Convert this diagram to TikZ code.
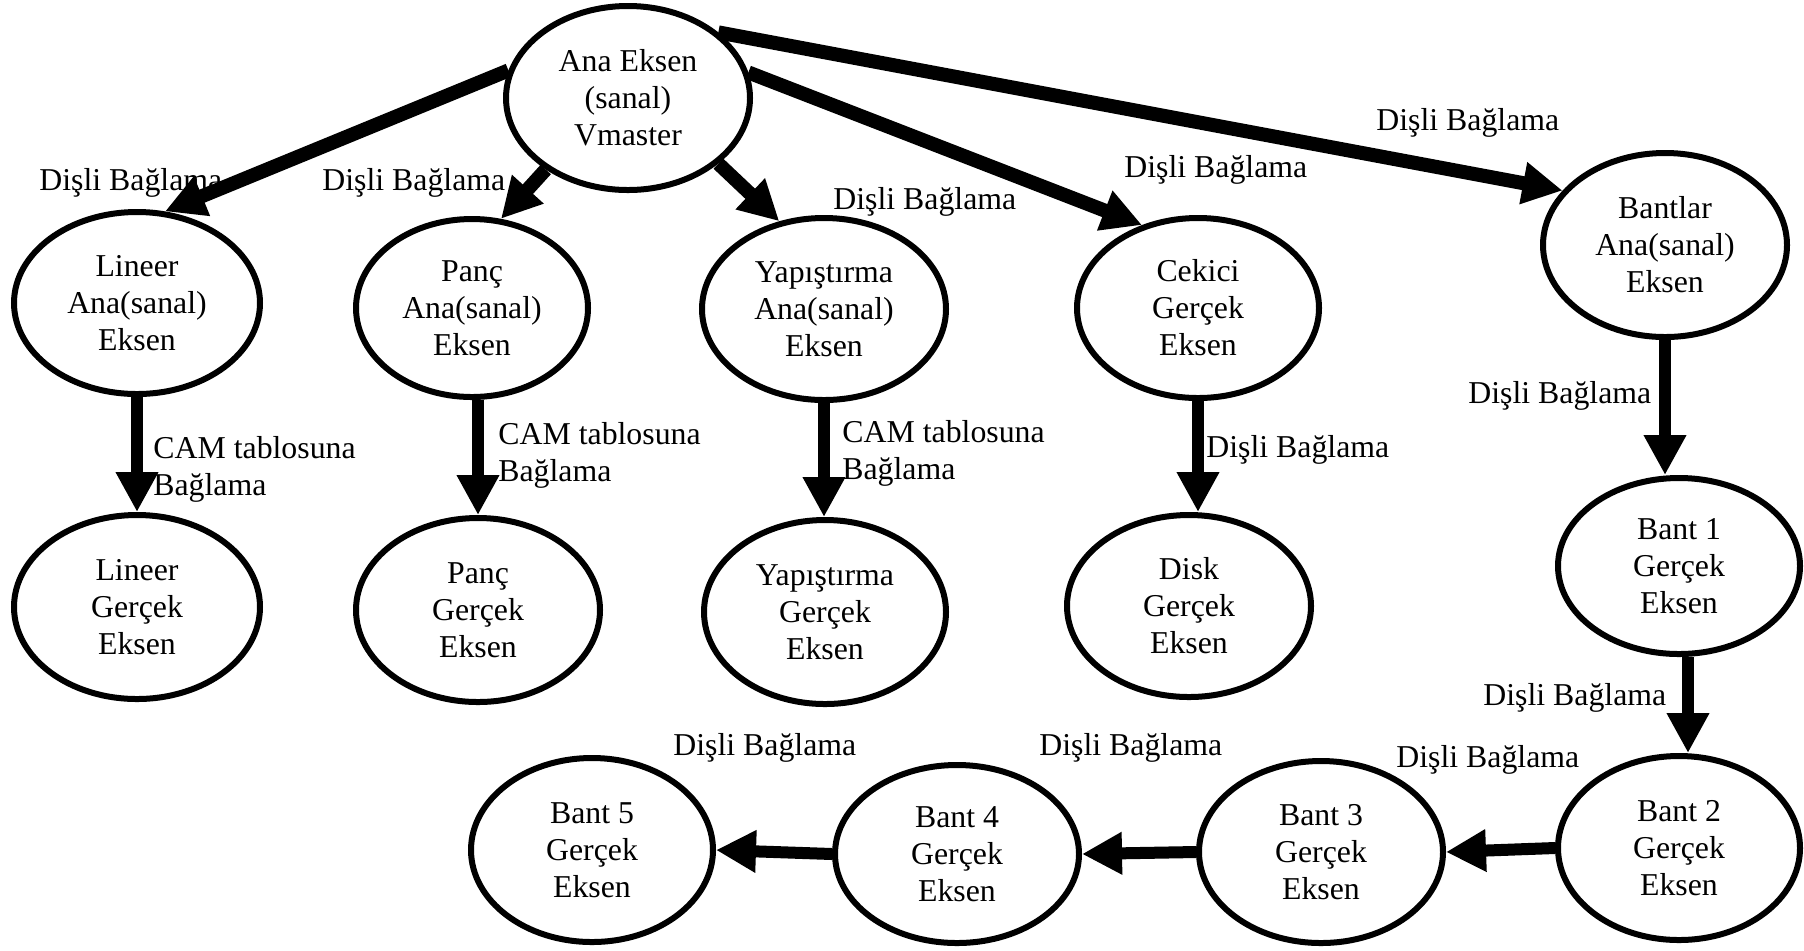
\documentclass[tikz,border=0pt]{standalone}
\usepackage{fontspec}
\setmainfont{Liberation Serif}
\usetikzlibrary{shapes.geometric,arrows.meta}
\newcommand{\lblfont}{\fontsize{15.9pt}{18.5pt}\selectfont}

\begin{document}
\begin{tikzpicture}[x=0.5pt,y=-0.5pt,
  axis/.style={ellipse, draw, line width=3pt, inner sep=0pt, align=center,
    font=\lblfont, minimum width=122pt, minimum height=92pt},
  link/.style={line width=7pt, -{Triangle[length=20pt,width=20pt]}},
  linkb/.style={line width=6pt, -{Triangle[length=20pt,width=20pt]}},
  tag/.style={font=\lblfont, inner sep=0pt, anchor=base west},
  camtag/.style={font=\lblfont, inner sep=0pt, anchor=north west, align=left}]

\useasboundingbox (0,0) rectangle (1804,950);

% axes
\node[axis] (ana) at (628,98) {Ana Eksen\\(sanal)\\Vmaster};
\node[axis, minimum width=123pt, minimum height=91pt] (lin) at (137,303) {Lineer\\Ana(sanal)\\Eksen};
\node[axis, minimum width=116pt, minimum height=89pt] (pan) at (472,308) {Panç\\Ana(sanal)\\Eksen};
\node[axis, minimum height=91pt] (yap) at (824,309) {Yapıştırma\\Ana(sanal)\\Eksen};
\node[axis, minimum width=121pt, minimum height=90pt] (cek) at (1198,308) {Cekici\\Gerçek\\Eksen};
\node[axis] (ban) at (1665,245) {Bantlar\\Ana(sanal)\\Eksen};
\node[axis, minimum width=123pt] (ling) at (137,607) {Lineer\\Gerçek\\Eksen};
\node[axis] (pang) at (478,610) {Panç\\Gerçek\\Eksen};
\node[axis, minimum width=121pt] (yapg) at (825,612) {Yapıştırma\\Gerçek\\Eksen};
\node[axis, minimum height=91pt] (disk) at (1189,606) {Disk\\Gerçek\\Eksen};
\node[axis, minimum width=121pt, minimum height=88pt] (b1) at (1679,566) {Bant 1\\Gerçek\\Eksen};
\node[axis, minimum width=121pt] (b2) at (1679,848) {Bant 2\\Gerçek\\Eksen};
\node[axis, minimum height=91pt] (b3) at (1321,852) {Bant 3\\Gerçek\\Eksen};
\node[axis, minimum height=89pt] (b4) at (957,854) {Bant 4\\Gerçek\\Eksen};
\node[axis, minimum width=121pt] (b5) at (592,850) {Bant 5\\Gerçek\\Eksen};

% links from the master axis
\draw[link] (ana.167) -- (lin.73);
\draw[link] (ana.221) -- (pan.72);
\draw[link] (ana.324) -- (yap.117);
\draw[link] (ana.12) -- (cek.124);
\draw[link] (ana.36) -- (ban.152);

% links down to the real axes
\draw[linkb] (lin.south) -- (ling.north);
\draw[linkb] (pan.south -| pang.north) -- (pang.north);
\draw[linkb] (yap.south) -- (yap.south |- yapg.north);
\draw[linkb] (cek.south) -- (cek.south |- disk.north);
\draw[linkb] (ban.south) -- (ban.south |- b1.north);
\draw[linkb] ([xshift=4.5pt]b1.south) -- ([xshift=4.5pt]b2.north);
\draw[linkb] (b2.west) -- (b3.east);
\draw[linkb] (b3.west) -- (b4.east);
\draw[linkb] (b4.west) -- (b5.east);

% link labels
\node[tag] (t1) at (39,190) {Dişli Bağlama};
\node[tag] (t2) at (322,190) {Dişli Bağlama};
\node[tag] (t3) at (833,209) {Dişli Bağlama};
\node[tag] (t4) at (1124,177) {Dişli Bağlama};
\node[tag] (t5) at (1376,130) {Dişli Bağlama};
\node[tag] (t6) at (1468,403) {Dişli Bağlama};
\node[camtag] (c1) at (153,436) {CAM tablosuna\\Bağlama};
\node[camtag] (c2) at (498,422) {CAM tablosuna\\Bağlama};
\node[camtag] (c3) at (842,420) {CAM tablosuna\\Bağlama};
\node[tag] (t7) at (1206,457) {Dişli Bağlama};
\node[tag] (t8) at (1483,705) {Dişli Bağlama};
\node[tag] (t9) at (1396,767) {Dişli Bağlama};
\node[tag] (t10) at (1039,755) {Dişli Bağlama};
\node[tag] (t11) at (673,755) {Dişli Bağlama};

\end{tikzpicture}
\end{document}
